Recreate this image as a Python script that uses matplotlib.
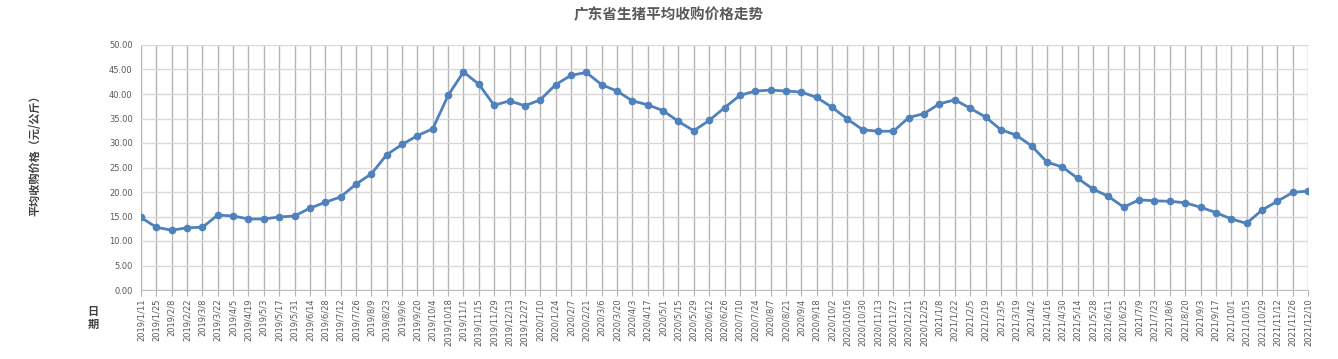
import matplotlib
matplotlib.use("Agg")
import matplotlib.pyplot as plt

plt.rcParams['font.family'] = ['Noto Sans CJK SC', 'DejaVu Sans']

# biweekly dates (tick labels)
dates = [
    '2019/1/11', '2019/1/25', '2019/2/8', '2019/2/22', '2019/3/8', '2019/3/22',
    '2019/4/5', '2019/4/19', '2019/5/3', '2019/5/17', '2019/5/31', '2019/6/14',
    '2019/6/28', '2019/7/12', '2019/7/26', '2019/8/9', '2019/8/23', '2019/9/6',
    '2019/9/20', '2019/10/4', '2019/10/18', '2019/11/1', '2019/11/15', '2019/11/29',
    '2019/12/13', '2019/12/27', '2020/1/10', '2020/1/24', '2020/2/7', '2020/2/21',
    '2020/3/6', '2020/3/20', '2020/4/3', '2020/4/17', '2020/5/1', '2020/5/15',
    '2020/5/29', '2020/6/12', '2020/6/26', '2020/7/10', '2020/7/24', '2020/8/7',
    '2020/8/21', '2020/9/4', '2020/9/18', '2020/10/2', '2020/10/16', '2020/10/30',
    '2020/11/13', '2020/11/27', '2020/12/11', '2020/12/25', '2021/1/8', '2021/1/22',
    '2021/2/5', '2021/2/19', '2021/3/5', '2021/3/19', '2021/4/2', '2021/4/16',
    '2021/4/30', '2021/5/14', '2021/5/28', '2021/6/11', '2021/6/25', '2021/7/9',
    '2021/7/23', '2021/8/6', '2021/8/20', '2021/9/3', '2021/9/17', '2021/10/1',
    '2021/10/15', '2021/10/29', '2021/11/12', '2021/11/26', '2021/12/10',
]

# average purchase price (yuan/kg)
prices = [
    14.8, 12.8, 12.2, 12.7, 12.8, 15.3,
    15.1, 14.5, 14.5, 14.9, 15.1, 16.7,
    17.9, 19.0, 21.6, 23.7, 27.6, 29.7,
    31.5, 32.9, 39.7, 44.5, 42.0, 37.7,
    38.6, 37.6, 38.8, 41.9, 43.8, 44.4,
    41.9, 40.6, 38.6, 37.8, 36.6, 34.4,
    32.5, 34.6, 37.2, 39.7, 40.6, 40.8,
    40.6, 40.4, 39.3, 37.3, 34.9, 32.7,
    32.4, 32.4, 35.2, 36.0, 38.0, 38.8,
    37.1, 35.3, 32.7, 31.6, 29.4, 26.1,
    25.1, 22.8, 20.6, 19.1, 16.9, 18.4,
    18.2, 18.1, 17.8, 16.9, 15.8, 14.5,
    13.6, 16.3, 18.1, 19.9, 20.2,
]

yticks = [0, 5, 10, 15, 20, 25, 30, 35, 40, 45, 50]

fig = plt.figure(figsize=(13.38, 3.59), dpi=100)
ax = fig.add_axes([141 / 1338, 1 - 290 / 359, (1308 - 141) / 1338, 245 / 359])

x = list(range(len(dates)))
ax.plot(x, prices, color='#4f81bd', linewidth=2, marker='o', markersize=4.5, zorder=3)

ax.set_xlim(0, len(dates) - 1)
ax.set_ylim(0, 50)
ax.set_xticks(x)
ax.set_xticklabels(dates, rotation=90, fontsize=6, color='#595959', family='DejaVu Sans')
ax.set_yticks(yticks)
ax.set_yticklabels(['%.2f' % v for v in yticks], fontsize=6, color='#595959', family='DejaVu Sans')

ax.grid(axis='y', color='#d9d9d9', linewidth=1)
ax.grid(axis='x', color='#b3b3b3', linewidth=1)
ax.set_axisbelow(True)
for s in ['top', 'right', 'left']:
    ax.spines[s].set_visible(False)
ax.spines['bottom'].set_color('#bfbfbf')
ax.tick_params(axis='x', length=4, color='#b3b3b3', pad=2)
ax.tick_params(axis='y', length=0, pad=6)

fig.text(0.5, 1 - 14 / 359, '广东省生猪平均收购价格走势', ha='center', va='center',
         fontsize=10.5, fontweight='bold', color='#595959')
fig.text(35 / 1338, 1 - 153 / 359, '平均收购价格（元/公斤）', rotation=90, ha='center',
         va='center', fontsize=8, fontweight='bold', color='#404040')
fig.text(93 / 1338, 1 - 318 / 359, '日\n期', ha='center', va='center', fontsize=8,
         fontweight='bold', color='#404040', linespacing=1.0)

fig.savefig('out.png', dpi=100)
